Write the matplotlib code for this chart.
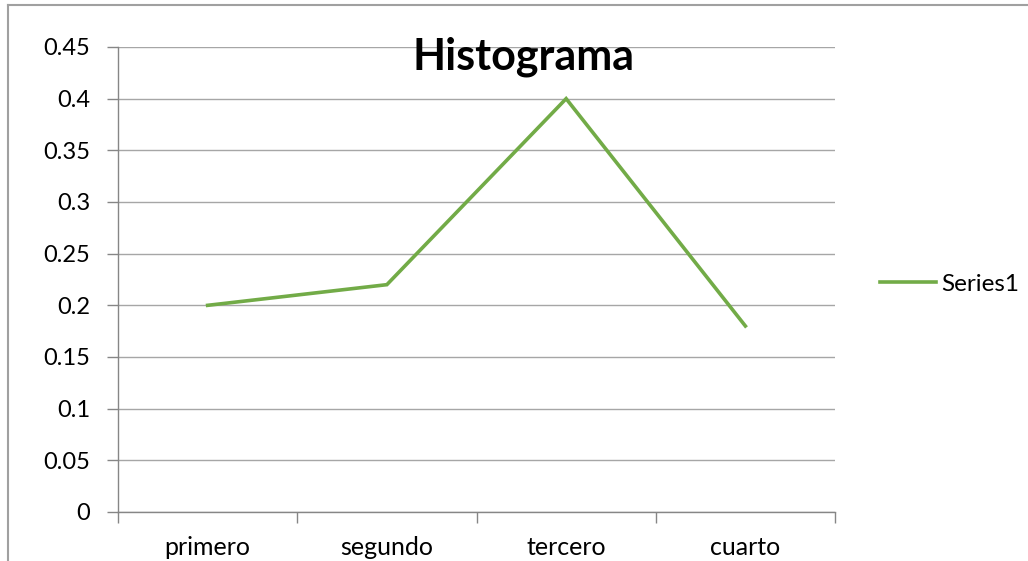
import matplotlib
matplotlib.use("Agg")
import matplotlib.pyplot as plt
from matplotlib.lines import Line2D
from matplotlib.ticker import FixedLocator, NullFormatter

categories = ["primero", "segundo", "tercero", "cuarto"]
values = [0.2, 0.22, 0.4, 0.18]
yticks = [0, 0.05, 0.1, 0.15, 0.2, 0.25, 0.3, 0.35, 0.4, 0.45]
ytick_labels = ["0", "0.05", "0.1", "0.15", "0.2", "0.25", "0.3", "0.35", "0.4", "0.45"]
series_name = "Series1"
title = "Histograma"

plt.rcParams['font.family'] = ['Lato', 'DejaVu Sans']

W, H = 1028, 561
fig = plt.figure(figsize=(W/100, H/100), dpi=100)
ax = fig.add_axes([118/W, 1 - 512/H, (835-118)/W, (512-47)/H])

green = "#72AB47"
grid = "#A6A6A6"
axc = "#868686"

x = list(range(len(categories)))
line, = ax.plot(x, values, color=green, lw=2.6, solid_joinstyle='miter', label=series_name)

ax.set_xlim(-0.5, len(categories) - 0.5)
ax.set_ylim(0, 0.45)
ax.set_yticks(yticks)
ax.set_yticklabels(ytick_labels)
ax.set_xticks(x)
ax.set_xticklabels(categories)
ax.xaxis.set_minor_locator(FixedLocator([i - 0.5 for i in range(len(categories) + 1)]))
ax.xaxis.set_minor_formatter(NullFormatter())

ax.tick_params(axis='x', which='major', length=0, pad=17, labelsize=18)
ax.tick_params(axis='x', which='minor', length=8, width=1, color=axc, direction='out')
ax.tick_params(axis='y', length=8, width=1, color=axc, direction='out', pad=12, labelsize=17)

ax.yaxis.grid(True, color=grid, lw=1)
ax.set_axisbelow(True)
for s in ['top', 'right']:
    ax.spines[s].set_visible(False)
for s in ['left', 'bottom']:
    ax.spines[s].set_color(axc)
    ax.spines[s].set_linewidth(1)

fig.text(524/W, 1 - 57/H, title, ha='center', va='center', fontsize=31, fontweight='bold')

ax.legend(handles=[line], loc='center left', bbox_to_anchor=(868/W, 1 - 284/H),
          bbox_transform=fig.transFigure, frameon=False, fontsize=17.5,
          handlelength=2.3, handletextpad=0.2, borderpad=0)

# chart area border (cropped at right/bottom)
fig.add_artist(Line2D([8/W, 8/W], [0, 1 - 5/H], transform=fig.transFigure, color="#A0A0A0", lw=1.5))
fig.add_artist(Line2D([8/W, 1], [1 - 5/H, 1 - 5/H], transform=fig.transFigure, color="#A0A0A0", lw=1.5))

fig.savefig("out.png", dpi=100)
